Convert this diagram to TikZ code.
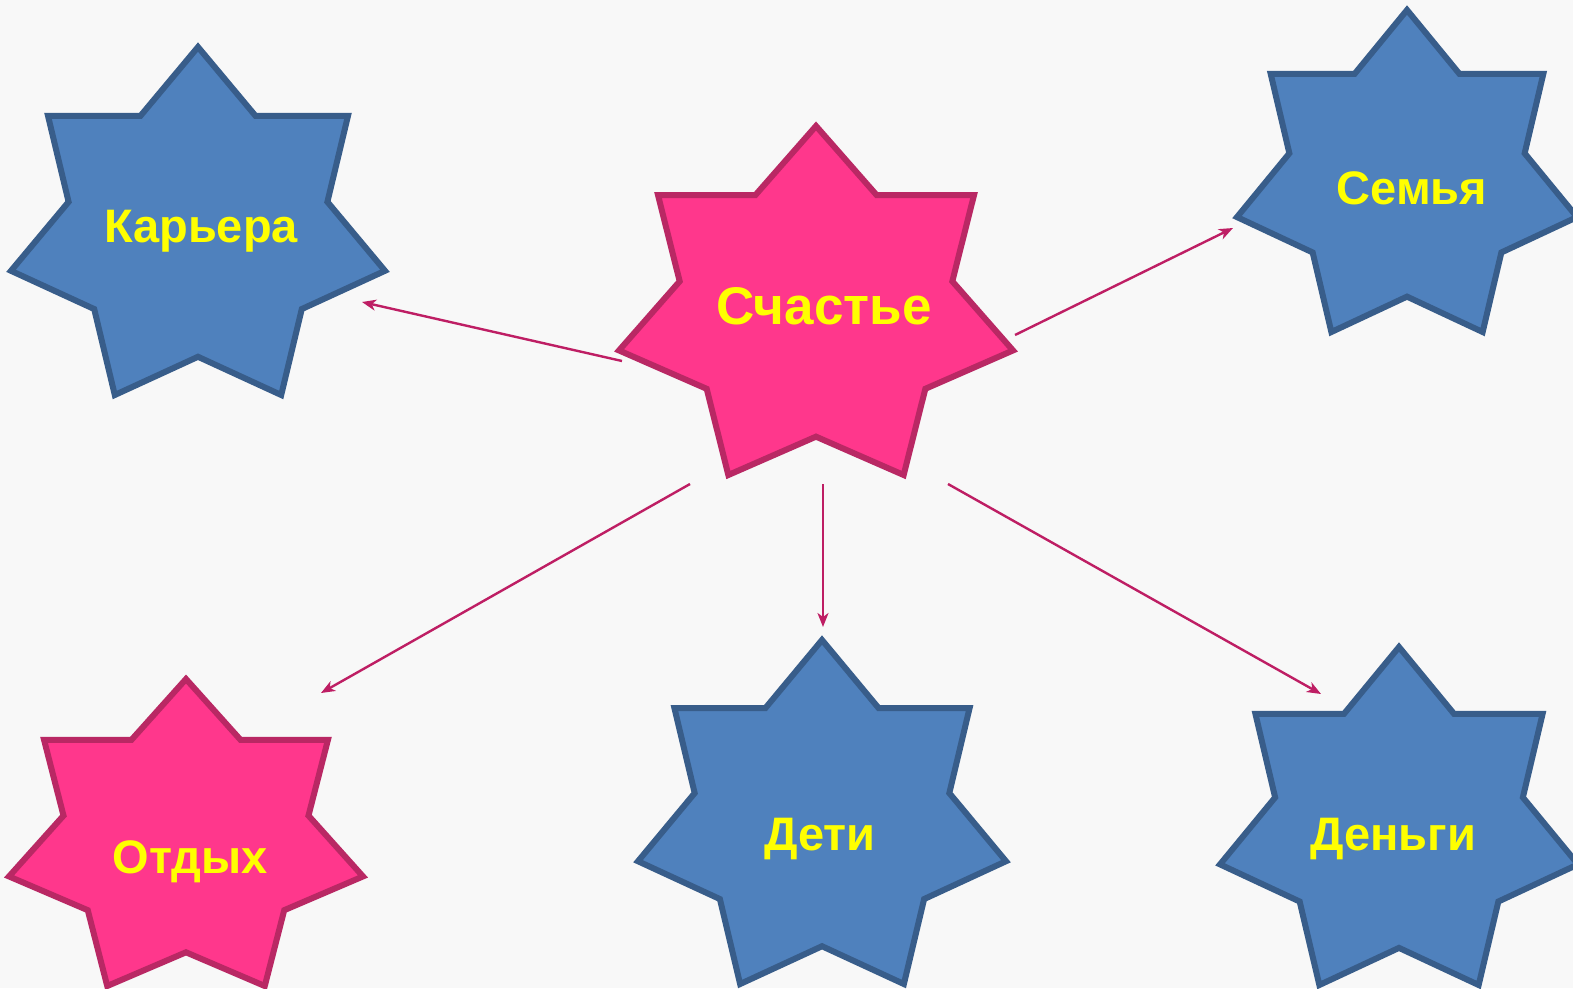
\documentclass[tikz,border=0pt]{standalone}
\usepackage{fontspec}
\setmainfont{Liberation Sans}
\usetikzlibrary{arrows.meta}
\definecolor{bgc}{RGB}{248,248,248}
\definecolor{bluefill}{RGB}{79,129,189}
\definecolor{bluedraw}{RGB}{56,93,138}
\definecolor{pinkfill}{RGB}{255,55,140}
\definecolor{pinkdraw}{RGB}{185,40,100}
\definecolor{arrowc}{RGB}{190,30,100}
\definecolor{txt}{RGB}{255,255,0}
\tikzset{
  bluestar/.style={fill=bluefill,draw=bluedraw,line width=6pt},
  pinkstar/.style={fill=pinkfill,draw=pinkdraw,line width=6pt},
  lbl/.style={text=txt,anchor=base,inner sep=0pt,font=\bfseries\fontsize{47}{47}\selectfont},
  biglbl/.style={lbl,font=\bfseries\fontsize{53}{53}\selectfont},
  conn/.style={draw=arrowc,line width=2.4pt,-{Stealth[length=14pt,width=11pt,inset=4pt]}}
}
\newcommand\starseven[5]{%
  \begin{scope}[shift={(#2,#3)},xscale=#4,yscale=#5]
    \path[#1] (0.5,0) -- (0.6540,0.1981) -- (0.9010,0.1981) -- (0.8460,0.4450)
      -- (1,0.6431) -- (0.7775,0.7530) -- (0.7225,1) -- (0.5,0.8901)
      -- (0.2775,1) -- (0.2225,0.7530) -- (0,0.6431) -- (0.1540,0.4450)
      -- (0.0990,0.1981) -- (0.3460,0.1981) -- cycle;
  \end{scope}}
\begin{document}
\begin{tikzpicture}[x=1pt,y=-1pt]
\useasboundingbox (0,0) rectangle (1573,988);
\fill[bgc] (0,0) rectangle (1573,988);
% stars
\starseven{bluestar}{11}{47}{374}{348}
\starseven{pinkstar}{619}{126}{394}{349}
\starseven{bluestar}{1237}{10}{340}{322}
\starseven{pinkstar}{9}{679}{354}{307}
\starseven{bluestar}{638}{640}{368}{344}
\starseven{bluestar}{1220}{647}{358}{338}
% labels
\node[lbl] (kar) at (201,242) {Карьера};
\node[biglbl] (sch) at (824,324) {Счастье};
\node[lbl] (sem) at (1412,204) {Семья};
\node[lbl] (otd) at (190,873) {Отдых};
\node[lbl] (det) at (820,850) {Дети};
\node[lbl] (den) at (1393,850) {Деньги};
% connector ends
\coordinate (s1) at (622,361);
\coordinate (e1) at (362,302);
\coordinate (s2) at (1015,335);
\coordinate (e2) at (1233,228);
\coordinate (s3) at (690,484);
\coordinate (e3) at (321,693);
\coordinate (s4) at (823,484);
\coordinate (e4) at (823,627);
\coordinate (s5) at (948,484);
\coordinate (e5) at (1321,694);
\draw[conn] (s1) -- (e1);
\draw[conn] (s2) -- (e2);
\draw[conn] (s3) -- (e3);
\draw[conn] (s4) -- (e4);
\draw[conn] (s5) -- (e5);
\end{tikzpicture}
\end{document}
